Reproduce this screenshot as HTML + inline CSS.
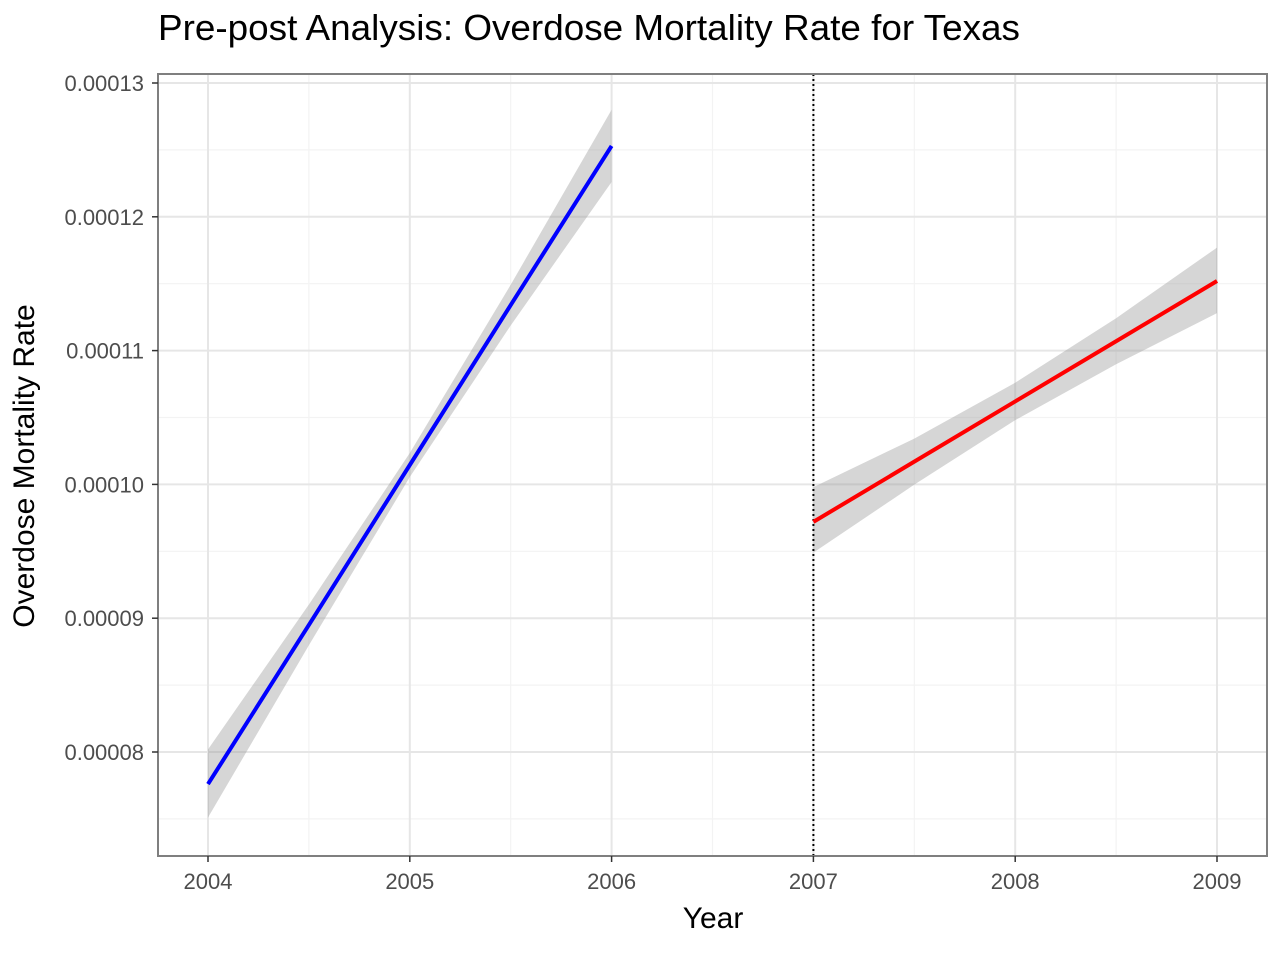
<!DOCTYPE html>
<html><head><meta charset="utf-8"><style>
body{margin:0;background:#fff;font-family:"Liberation Sans",sans-serif}
</style></head><body>
<svg id="chart" width="1280" height="960" xmlns="http://www.w3.org/2000/svg">
<text x="158" y="40" font-size="36" fill="#000" textLength="862" lengthAdjust="spacingAndGlyphs">Pre-post Analysis: Overdose Mortality Rate for Texas</text>
<g id="grid"></g>
<g id="marks"></g>
<rect x="158" y="74" width="1109" height="782" fill="none" stroke="#7f7f7f" stroke-width="2"/>
<g id="axes"></g>
<text x="713" y="928" font-size="30" text-anchor="middle">Year</text>
<text transform="translate(34,466) rotate(-90)" font-size="30" text-anchor="middle">Overdose Mortality Rate</text>
</svg>
<script>
const xTicks=[2004,2005,2006,2007,2008,2009];
const yTicks=[0.00008,0.00009,0.00010,0.00011,0.00012,0.00013];
const yTickLabels=["0.00008","0.00009","0.00010","0.00011","0.00012","0.00013"];
const preYears=[2004,2004.5,2005,2005.5,2006];
const preFit=[7.76e-5,8.95e-5,1.0145e-4,1.134e-4,1.253e-4];
const preLower=[7.51e-5,8.798e-5,1.0055e-4,1.1188e-4,1.226e-4];
const preUpper=[8.02e-5,9.102e-5,1.0235e-4,1.1492e-4,1.280e-4];
const postYears=[2007,2007.5,2008,2008.5,2009];
const postFit=[9.72e-5,1.017e-4,1.062e-4,1.107e-4,1.152e-4];
const postLower=[9.49e-5,9.998e-5,1.048e-4,1.0898e-4,1.128e-4];
const postUpper=[9.98e-5,1.0342e-4,1.076e-4,1.1242e-4,1.177e-4];
const interventionYear=2007;
const NS="http://www.w3.org/2000/svg";
const X=v=>208+(v-2004)*201.8;
const Y=v=>752-(v-0.00008)/0.00001*133.8;
function mk(tag,attrs,parent){const e=document.createElementNS(NS,tag);for(const k in attrs)e.setAttribute(k,attrs[k]);document.getElementById(parent).appendChild(e);return e;}
for(let i=0;i<xTicks.length-1;i++){const e=mk('line',{x1:X(xTicks[i]+0.5),x2:X(xTicks[i]+0.5),y1:74,y2:856,stroke:'#f3f3f3','stroke-width':1.2},'grid');

}
for(let v=0.000075;v<0.00013;v+=0.00001){const e=mk('line',{x1:158,x2:1267,y1:Y(v),y2:Y(v),stroke:'#f3f3f3','stroke-width':1.2},'grid');

}
xTicks.forEach(t=>{const e=mk('line',{x1:X(t),x2:X(t),y1:74,y2:856,stroke:'#e6e6e6','stroke-width':2},'grid');


const tk=mk('line',{x1:X(t),x2:X(t),y1:856,y2:862,stroke:'#333','stroke-width':1.5},'axes');


const l=mk('text',{x:X(t),y:889,'font-size':22,'text-anchor':'middle',fill:'#4d4d4d'},'axes');l.textContent=t;

});
yTicks.forEach((t,i)=>{const e=mk('line',{x1:158,x2:1267,y1:Y(t),y2:Y(t),stroke:'#e6e6e6','stroke-width':2},'grid');


const tk=mk('line',{x1:152,x2:158,y1:Y(t),y2:Y(t),stroke:'#333','stroke-width':1.5},'axes');


const l=mk('text',{x:144,y:Y(t)+8,'font-size':22,'text-anchor':'end',fill:'#4d4d4d'},'axes');l.textContent=yTickLabels[i];

});
function band(xs,lo,hi,name){const pts=xs.map((x,i)=>X(x)+','+Y(hi[i])).concat(xs.slice().reverse().map((x,i)=>X(x)+','+Y(lo[xs.length-1-i])));
const e=mk('polygon',{points:pts.join(' '),fill:'#999',opacity:0.4},'marks');

}
function line(xs,ys,col,name){const e=mk('polyline',{points:xs.map((x,i)=>X(x)+','+Y(ys[i])).join(' '),fill:'none',stroke:col,'stroke-width':4},'marks');

}
band(preYears,preLower,preUpper,'pre-confidence-band');
band(postYears,postLower,postUpper,'post-confidence-band');
const v=mk('line',{x1:X(interventionYear),x2:X(interventionYear),y1:74,y2:856,stroke:'#000','stroke-width':2,'stroke-dasharray':'2,3'},'marks');


line(preYears,preFit,'#0000ff','pre-trend-line');
line(postYears,postFit,'#ff0000','post-trend-line');
</script>
</body></html>
